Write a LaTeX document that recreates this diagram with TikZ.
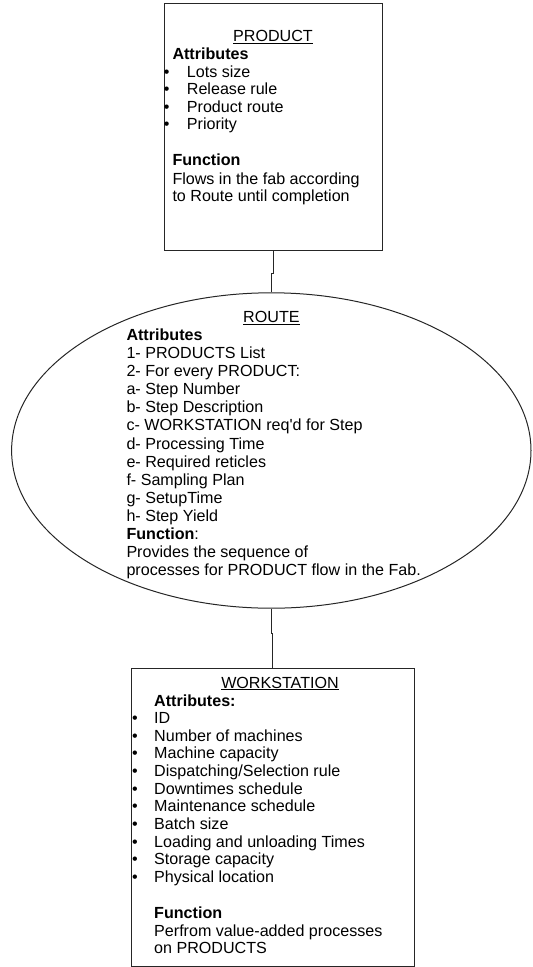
\documentclass[tikz,border=0pt]{standalone}
\usepackage{fontspec}
\setmainfont{Liberation Sans}
\usetikzlibrary{shapes.geometric}
\newcommand{\txtsize}{\fontsize{16.1}{17.6}\selectfont}
\begin{document}
\begin{tikzpicture}[x=1pt,y=-1pt,
  box/.style={draw=black!85, line width=1pt, inner sep=0pt},
  link/.style={draw=black!85, line width=1pt},
  txt/.style={anchor=base west, inner sep=0pt, font=\txtsize},
  ttl/.style={anchor=base, inner sep=0pt, font=\txtsize},
  bul/.style={anchor=base, inner sep=0pt, font=\txtsize}]
\useasboundingbox (0,0) rectangle (533,967);
% shapes
\node[box, minimum width=218pt, minimum height=247pt] (prod) at (273,126.5) {};
\node[box, ellipse, minimum width=519.4pt, minimum height=315.4pt] (route) at (271.3,450.5) {};
\node[box, minimum width=282.3pt, minimum height=298pt] (ws) at (272.85,817) {};
% connectors
\draw[link] (prod.south) -- ++(0,23) -| (route.north);
\draw[link] (route.south) -- ++(0,25) -| (ws.north);
% PRODUCT text
\node[ttl] (prodT) at (273,41.7) {\underline{PRODUCT}};
\node[txt] (prodA) at (172.3,59.3) {\textbf{Attributes}};
\foreach \t [count=\i] in {Lots size, Release rule, Product route, Priority} {
  \node[bul] (prodB\i) at (166.7,59.7+17.5*\i) {•};
  \node[txt] (prodI\i) at (186.7,59.7+17.5*\i) {\t};
}
\node[txt] (prodF) at (172.3,165.7) {\textbf{Function}};
\node[txt] (prodF1) at (172.3,184) {Flows in the fab according};
\node[txt] (prodF2) at (172.3,201.7) {to Route until completion};
% ROUTE text
\node[ttl] (routeT) at (271.4,322.7) {\underline{ROUTE}};
\foreach \t [count=\i from 0] in {\textbf{Attributes}, 1- PRODUCTS List, 2- For every PRODUCT:, a- Step Number, b- Step Description, c- WORKSTATION req\textquotesingle d for Step, d- Processing Time, e- Required reticles, f- Sampling Plan, g- SetupTime, h- Step Yield, \textbf{Function}:, Provides the sequence of, processes for PRODUCT flow in the Fab.} {
  \node[txt] (routeL\i) at (126.3,340.7+18.05*\i) {\t};
}
% WORKSTATION text
\node[ttl] (wsT) at (280,688) {\underline{WORKSTATION}};
\node[txt] (wsA) at (154,706.7) {\textbf{Attributes:}};
\foreach \t [count=\i from 0] in {ID, Number of machines, Machine capacity, Dispatching/Selection rule, Downtimes schedule, Maintenance schedule, Batch size, Loading and unloading Times, Storage capacity, Physical location} {
  \node[bul] (wsB\i) at (135,723.3+17.7*\i) {•};
  \node[txt] (wsI\i) at (154,723.3+17.7*\i) {\t};
}
\node[txt] (wsF) at (154,918) {\textbf{Function}};
\node[txt] (wsF1) at (154,936) {Perfrom value-added processes};
\node[txt] (wsF2) at (154,953.7) {on PRODUCTS};
\end{tikzpicture}
\end{document}
